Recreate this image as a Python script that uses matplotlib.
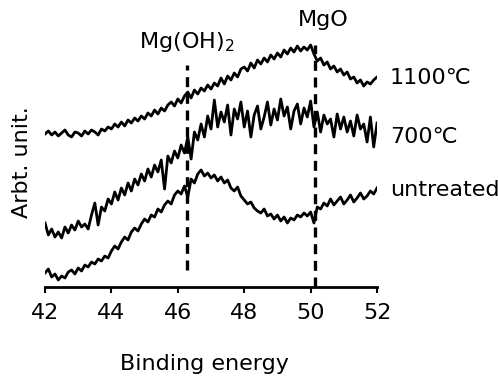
"""XPS Mg 2p spectra of untreated / annealed samples."""

import matplotlib

matplotlib.use("Agg")
import matplotlib.pyplot as plt
import numpy as np

# spectra are sampled every 0.1 eV from 42 to 52 eV
energy = np.linspace(42.0, 52.0, 101)

sample_1100 = [
    153, 156, 152, 155, 151, 154, 157, 152, 150, 155,
    154, 151, 156, 153, 157, 155, 152, 158, 156, 160,
    158, 163, 160, 165, 161, 167, 164, 169, 166, 171,
    168, 174, 171, 177, 173, 179, 176, 182, 185, 181,
    188, 184, 191, 195, 189, 197, 193, 199, 196, 202,
    198, 204, 201, 209, 203, 211, 207, 214, 210, 218,
    220, 216, 224, 219, 227, 223, 229, 225, 232, 228,
    234, 230, 237, 233, 239, 235, 241, 236, 240, 237,
    242, 233, 226, 229, 222, 225, 218, 221, 215, 218,
    212, 215, 208, 210, 204, 207, 201, 205, 203, 207,
    210,
]
sample_700 = [
    64, 52, 58, 50, 55, 49, 60, 54, 62, 57,
    66, 60, 63, 58, 72, 84, 62, 80, 76, 88,
    83, 95, 87, 99, 92, 104, 96, 108, 102, 113,
    106, 118, 110, 122, 115, 127, 98, 131, 124, 136,
    129, 142, 134, 150, 128, 155, 147, 163, 150, 171,
    158, 187, 160, 175, 165, 182, 152, 178, 168, 185,
    160, 176, 150, 172, 181, 158, 170, 185, 162, 178,
    167, 188, 171, 180, 158, 176, 183, 163, 179, 170,
    186, 160, 175, 155, 172, 163, 168, 150, 173, 158,
    170, 155, 166, 151, 172, 158, 163, 145, 170, 140,
    164,
]
untreated = [
    14, 18, 10, 13, 7, 11, 9, 15, 17, 13,
    19, 16, 22, 20, 25, 23, 28, 26, 31, 29,
    36, 41, 38, 45, 50, 47, 55, 59, 56, 63,
    68, 65, 72, 70, 78, 75, 82, 86, 83, 92,
    96, 93, 101, 90, 108, 104, 113, 117, 111, 114,
    109, 112, 106, 110, 104, 107, 99, 96, 100, 91,
    87, 83, 85, 79, 76, 74, 78, 71, 73, 68,
    72, 66, 70, 64, 69, 67, 72, 70, 74, 71,
    75, 64, 80, 78, 84, 81, 88, 82, 86, 90,
    83, 87, 92, 85, 89, 94, 88, 91, 96, 93,
    99,
]

curve_labels = ["1100℃", "700℃", "untreated"]
label_heights = [209, 150, 97]

peak_names = ["Mg(OH)$_2$", "MgO"]
peak_positions = [46.27, 50.12]
peak_spans = [(17, 222), (0, 242)]
peak_label_pos = [(46.28, 245), (50.38, 267)]

FONT = 16

fig = plt.figure(figsize=(4.98, 3.76), dpi=100)
ax = fig.add_axes([0.0904, 0.2367, 0.6667, 0.7633])

for series in (sample_1100, sample_700, untreated):
    ax.plot(energy, series, color="black", lw=2.0)

for pos, (lo, hi) in zip(peak_positions, peak_spans):
    ax.plot([pos, pos], [lo, hi], color="black", lw=2.4, ls=(0, (3, 2)))

for name, (x, y) in zip(peak_names, peak_label_pos):
    ax.text(x, y, name, ha="center", va="center", fontsize=FONT)

for text, y in zip(curve_labels, label_heights):
    ax.text(52.38, y, text, ha="left", va="center", fontsize=FONT, clip_on=False)

ax.set_xlim(42, 52)
ax.set_ylim(0, 287)
ax.set_xticks([42, 44, 46, 48, 50, 52])
ax.set_yticks([])
for side in ("left", "right", "top"):
    ax.spines[side].set_visible(False)
ax.spines["bottom"].set_linewidth(2)
ax.tick_params(axis="x", length=4.5, width=1.5, pad=7, labelsize=FONT)
ax.patch.set_visible(False)

fig.text(22 / 498, 1 - 162 / 376, "Arbt. unit.", rotation=90,
         ha="center", va="center", fontsize=FONT)
fig.text(204 / 498, 1 - 370 / 376, "Binding energy", ha="center",
         va="baseline", fontsize=FONT)

fig.savefig("out.png", dpi=100)
